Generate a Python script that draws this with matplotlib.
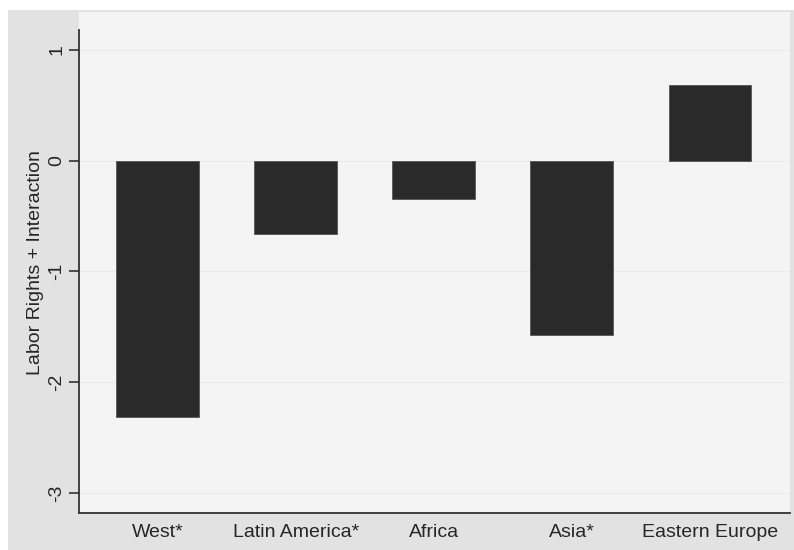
import matplotlib.pyplot as plt
from matplotlib.patches import Rectangle

# Data
regions = ['West*', 'Latin America*', 'Africa', 'Asia*', 'Eastern Europe']
effects = [-2.31, -0.66, -0.35, -1.57, 0.68]
yticks = [1, 0, -1, -2, -3]

plt.rcParams['font.family'] = ['Liberation Sans', 'DejaVu Sans']

W, H = 794, 550
fig = plt.figure(figsize=(W / 100, H / 100), dpi=100, facecolor='white')

# outer graph region (gray), kept behind the axes
fig.patches.append(Rectangle((8 / W, 0), 1 - 8 / W, 1 - 10 / H,
                             transform=fig.transFigure, facecolor='#e2e2e2',
                             edgecolor='none', zorder=-10))

# plot region
ax = fig.add_axes([79 / W, 1 - 513 / H, (790 - 79) / W, (513 - 12) / H])
ax.set_facecolor('#f4f4f4')

x = list(range(len(regions)))
ax.bar(x, effects, width=0.6, color='#2a2a2a', edgecolor='#555555',
       linewidth=0.6, zorder=3)

ax.set_xlim(-0.57, 4.58)
ax.set_ylim(-3.18, 1.342)
ax.set_yticks(yticks)
ax.set_yticklabels([str(t) for t in yticks], rotation=90, va='center')
ax.set_xticks(x)
ax.set_xticklabels(regions)

# very faint horizontal grid, as in the scan
ax.grid(axis='y', color='#eaeaea', linewidth=0.8, zorder=1)
ax.set_axisbelow(True)

for side in ['top', 'right']:
    ax.spines[side].set_visible(False)
for side in ['left', 'bottom']:
    ax.spines[side].set_color('#333333')
    ax.spines[side].set_linewidth(1.3)
ax.spines['left'].set_bounds(-3.18, 1.18)

ax.tick_params(axis='y', length=7, width=1.2, color='#333333',
               labelsize=14, labelcolor='#262626', pad=3)
ax.tick_params(axis='x', length=0, labelsize=14, labelcolor='#262626', pad=8)

ax.set_ylabel('Labor Rights + Interaction', fontsize=14, color='#262626',
              labelpad=3)

fig.savefig('out.png', dpi=100, facecolor='white')
